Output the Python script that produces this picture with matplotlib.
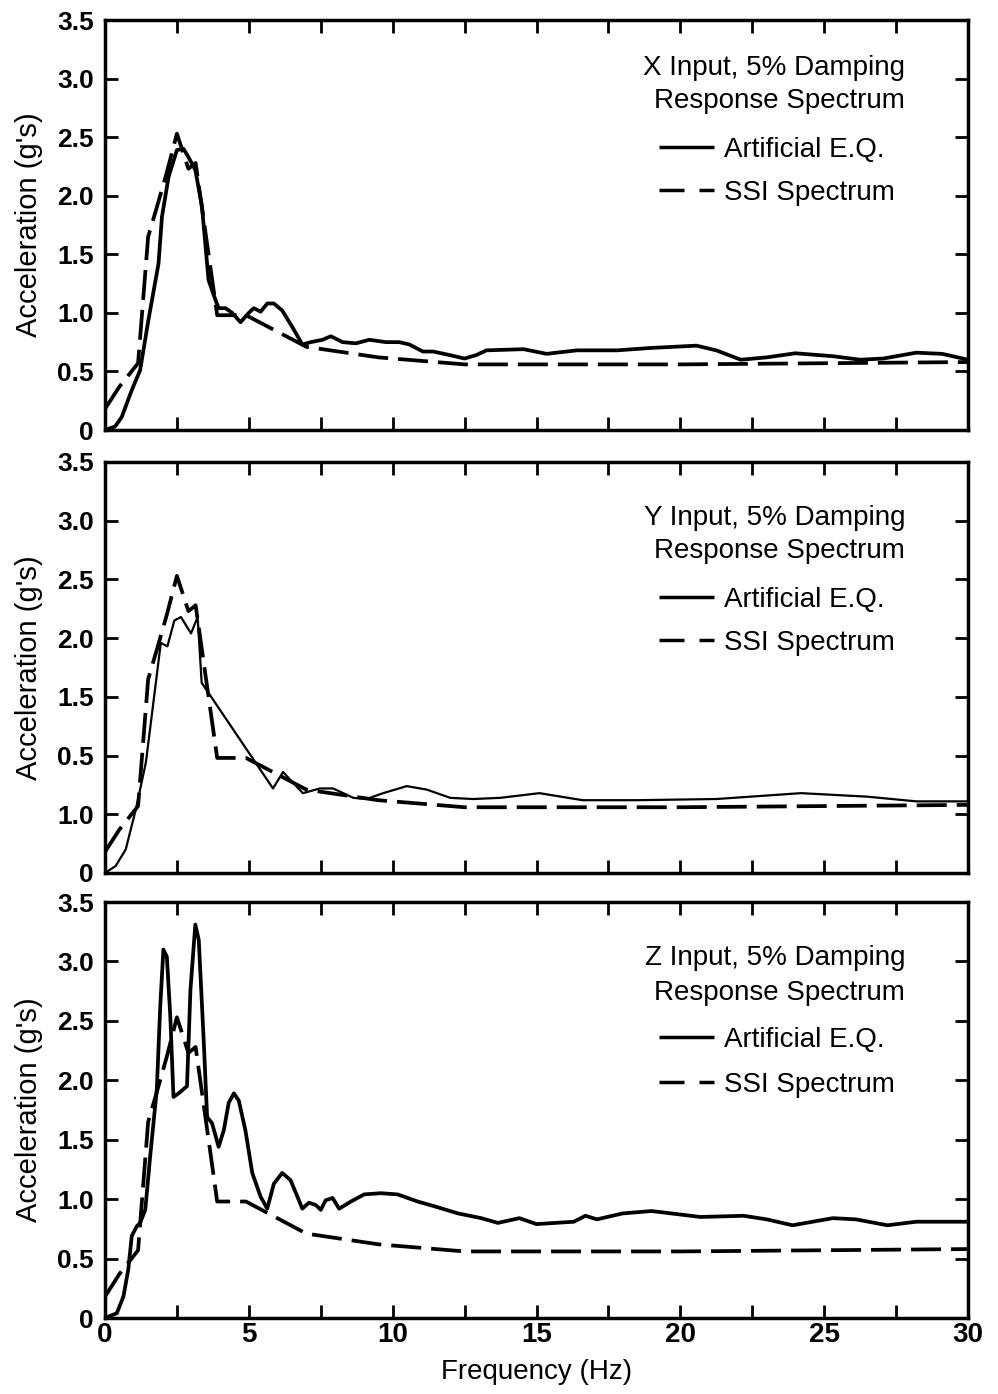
import matplotlib
matplotlib.use("Agg")
import matplotlib.pyplot as plt
from matplotlib.lines import Line2D

plt.rcParams['font.family'] = ['Liberation Sans', 'DejaVu Sans']
plt.rcParams['lines.scale_dashes'] = False

# ---------------- data ----------------
# SSI spectrum (same target in all three panels)
ssi_f = [0, 0.5, 1.15, 1.5, 1.8, 2.15, 2.5, 2.9, 3.15, 3.9, 4.9, 7.0, 9.5, 12.5, 20, 30]
ssi_a = [0.18, 0.37, 0.57, 1.65, 1.9, 2.2, 2.53, 2.23, 2.28, 0.98, 0.98, 0.71, 0.62, 0.56, 0.56, 0.58]

# X input, artificial E.Q.
x_f = [0, 0.35, 0.58, 0.93, 1.22, 1.51, 1.86, 1.98, 2.21, 2.5, 2.73, 2.9, 3.14, 3.37, 3.6,
       3.84, 3.95, 4.19, 4.42, 4.71, 5.0, 5.17, 5.41, 5.64, 5.87, 6.16, 6.51, 6.86, 7.15, 7.56,
       7.85, 8.26, 8.72, 9.19, 9.77, 10.23, 10.58, 11.05, 11.4, 11.98, 12.5, 12.91, 13.26, 14.55,
       15.35, 16.4, 17.8, 18.95, 20.56, 21.25, 22.1, 23.0, 24.0, 25.3, 26.25, 27.05, 28.2, 29.1, 30]
x_a = [0, 0.03, 0.11, 0.34, 0.51, 0.94, 1.42, 1.82, 2.16, 2.39, 2.40, 2.33, 2.22, 1.91, 1.28,
       1.11, 1.04, 1.04, 1.0, 0.92, 1.0, 1.04, 1.01, 1.08, 1.08, 1.02, 0.88, 0.73, 0.75, 0.77,
       0.80, 0.75, 0.74, 0.77, 0.75, 0.75, 0.73, 0.67, 0.67, 0.64, 0.61, 0.64, 0.68, 0.69,
       0.65, 0.68, 0.68, 0.70, 0.72, 0.68, 0.60, 0.62, 0.655, 0.63, 0.60, 0.61, 0.66, 0.65, 0.60]

# Y input, artificial E.Q.
y_f = [0, 0.37, 0.72, 1.07, 1.42, 1.65, 1.94, 2.17, 2.41, 2.64, 2.99, 3.22, 3.36, 5.84, 6.19,
       6.53, 6.88, 7.47, 7.93, 8.63, 9.09, 9.67, 10.49, 11.19, 12.0, 12.8, 13.74, 15.1, 16.6,
       18.5, 21.25, 24.2, 26.5, 28.2, 30]
y_a = [0, 0.06, 0.2, 0.54, 0.94, 1.39, 1.96, 1.93, 2.15, 2.18, 2.04, 2.18, 1.62, 0.72, 0.86,
       0.77, 0.68, 0.72, 0.72, 0.64, 0.63, 0.68, 0.74, 0.71, 0.64, 0.63, 0.64, 0.68, 0.62,
       0.62, 0.63, 0.68, 0.65, 0.61, 0.61]

# Z input, artificial E.Q.
z_f = [0, 0.41, 0.64, 0.81, 0.93, 1.1, 1.22, 1.4, 1.57, 1.8, 1.92, 2.03, 2.15, 2.27, 2.38,
       2.56, 2.85, 2.97, 3.14, 3.26, 3.43, 3.55, 3.72, 3.95, 4.13, 4.3, 4.48, 4.65, 4.88, 5.12,
       5.41, 5.64, 5.87, 6.16, 6.45, 6.69, 6.86, 7.09, 7.33, 7.5, 7.67, 7.91, 8.14, 8.55, 9.01,
       9.59, 10.17, 10.87, 11.45, 12.27, 13.08, 13.66, 14.4, 15.0, 16.3, 16.7, 17.1, 18.0, 19.0,
       20.7, 22.2, 23.0, 23.9, 25.3, 26.1, 27.2, 28.2, 30]
z_a = [0, 0.04, 0.18, 0.41, 0.69, 0.77, 0.80, 0.91, 1.36, 1.92, 2.62, 3.10, 3.04, 2.54, 1.86,
       1.89, 1.95, 2.76, 3.31, 3.18, 2.34, 1.69, 1.64, 1.44, 1.58, 1.81, 1.89, 1.83, 1.58, 1.22,
       1.02, 0.92, 1.13, 1.22, 1.16, 1.02, 0.92, 0.97, 0.95, 0.91, 0.99, 1.01, 0.92, 0.98, 1.04,
       1.05, 1.04, 0.98, 0.94, 0.88, 0.84, 0.80, 0.84, 0.79, 0.81, 0.86, 0.83, 0.88, 0.90,
       0.85, 0.86, 0.83, 0.78, 0.84, 0.83, 0.78, 0.81, 0.81]

titles = ["X Input, 5% Damping", "Y Input, 5% Damping", "Z Input, 5% Damping"]
subtitle = "Response Spectrum"
legend_labels = ["Artificial E.Q.", "SSI Spectrum"]
y_ticks = [0, 0.5, 1.0, 1.5, 2.0, 2.5, 3.0, 3.5]
y_ticklabels = [
    ["0", "0.5", "1.0", "1.5", "2.0", "2.5", "3.0", "3.5"],
    ["0", "1.0", "0.5", "1.5", "2.0", "2.5", "3.0", "3.5"],
    ["0", "0.5", "1.0", "1.5", "2.0", "2.5", "3.0", "3.5"],
]
x_major = [0, 5, 10, 15, 20, 25, 30]
x_minor = [2.5, 7.5, 12.5, 17.5, 22.5, 27.5]
x_label = "Frequency (Hz)"
y_label = "Acceleration (g's)"

series = [(x_f, x_a), (y_f, y_a), (z_f, z_a)]
solid_lw = [2.7, 1.6, 2.7]

# ---------------- layout (pixels) ----------------
W, H = 998, 1394
fig = plt.figure(figsize=(W / 100, H / 100), dpi=100)
left_px, right_px = 105, 968
panels_px = [(20, 430), (462, 873), (902, 1318)]
# text baselines measured from panel top (px)
text_rel = [(55, 88, 137, 180), (63, 96, 145, 188), (63, 98, 145, 190)]

DASH = (21.6, 7.2)
wpx = right_px - left_px

for i, (top, bot) in enumerate(panels_px):
    hpx = bot - top
    ax = fig.add_axes([left_px / W, 1 - bot / H, wpx / W, hpx / H])
    f, a = series[i]
    ax.plot(ssi_f, ssi_a, color='black', lw=2.7, dashes=DASH, dash_capstyle='butt')
    ax.plot(f, a, color='black', lw=solid_lw[i], solid_joinstyle='round', solid_capstyle='round')
    ax.set_xlim(0, 30)
    ax.set_ylim(0, 3.5)
    ax.set_xticks(x_major)
    ax.set_xticks(x_minor, minor=True)
    ax.set_yticks(y_ticks)
    ax.set_yticklabels(y_ticklabels[i], fontsize=19, fontweight='bold')
    ax.tick_params(axis='both', which='both', direction='in', top=True, right=True,
                   length=9.5, width=2.0)
    ax.tick_params(axis='y', pad=8)
    for s in ax.spines.values():
        s.set_linewidth(2.5)
    if i == 2:
        ax.set_xticklabels([str(v) for v in x_major], fontsize=20, fontweight='bold')
        ax.tick_params(axis='x', pad=3)
        ax.set_xlabel(x_label, fontsize=20, labelpad=8)
    else:
        ax.set_xticklabels([])
    ax.set_ylabel(y_label, fontsize=21)
    ax.yaxis.set_label_coords(-0.072, 0.5)

    # legend block
    xr = (905 - left_px) / wpx
    xl = (724 - left_px) / wpx
    r1, r2, r3, r4 = text_rel[i]
    fy = lambda r: 1 - r / hpx
    ax.text(xr, fy(r1), titles[i], transform=ax.transAxes, ha='right', va='baseline', fontsize=20)
    ax.text(xr, fy(r2), subtitle, transform=ax.transAxes, ha='right', va='baseline', fontsize=20)
    ax.text(xl, fy(r3), legend_labels[0], transform=ax.transAxes, ha='left', va='baseline', fontsize=20)
    ax.text(xl, fy(r4), legend_labels[1], transform=ax.transAxes, ha='left', va='baseline', fontsize=20)
    lx0 = (659 - left_px) / wpx
    lx1 = (714 - left_px) / wpx
    ax.add_line(Line2D([lx0, lx1], [fy(r3 - 10), fy(r3 - 10)], transform=ax.transAxes,
                       color='black', lw=2.5, solid_capstyle='butt'))
    ax.add_line(Line2D([lx0, lx1], [fy(r4 - 10), fy(r4 - 10)], transform=ax.transAxes,
                       color='black', lw=2.5, dashes=(18, 10.8, 13, 80), dash_capstyle='butt'))

fig.savefig("out.png", dpi=100)
